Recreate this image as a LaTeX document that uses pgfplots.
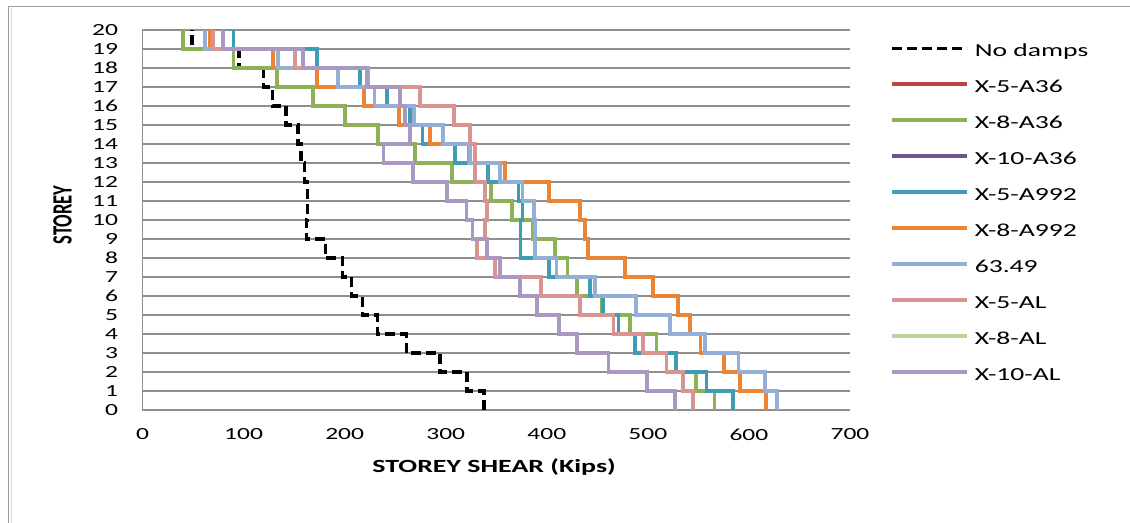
\documentclass[border=0pt]{standalone}
\usepackage{fontspec}
\setmainfont{Carlito}[FakeStretch=1.5]
\newfontfamily\plainfont{Carlito}
\usepackage{pgfplots}
\usepackage{pgfplotstable}
\pgfplotsset{compat=1.18}
\definecolor{gridgray}{HTML}{8E8E8E}
\definecolor{cRed}{HTML}{B84744}
\definecolor{cGreen}{HTML}{8DB255}
\definecolor{cPurple}{HTML}{6E5592}
\definecolor{cTeal}{HTML}{3E9DB6}
\definecolor{cOrange}{HTML}{EA8535}
\definecolor{cLBlue}{HTML}{94AFD6}
\definecolor{cPink}{HTML}{D99391}
\definecolor{cLGreen}{HTML}{BAD59C}
\definecolor{cLav}{HTML}{A898C2}

% storey s: shear acting between storey s and s+1 (last row repeats the top storey)
\pgfplotstableread{
s   nd     g      t      o      lb     pk     lv
0   338    566    584    617    628    545    527
1   321    548    558    591    616    535    499.5
2   294.5  528    528    575    589.6  518.5  461
3   261    508.6  487    552    556.6  495.5  430
4   232.5  482    471    542    522    466    412
5   217.5  455    456    530    488.5  433    390.3
6   207    429.5  442.5  505    448    394    373.5
7   198    420.5  402    477    409.7  348.5  353.7
8   181    408    374    441    388.5  331    340.5
9   162    386.7  374    438    388.5  338.5  326.5
10  163    365.3  376    433    387    341    320.5
11  163.5  345    372    402    376    339    301
12  160.5  306    342    359    353.7  329    268
13  157    269.6  309    323    324    329    238.5
14  154    233.3  277    284.5  297.6  324    264.6
15  142    200.4  265    254    269    308    260
16  128.4  169    242    219.5  229.5  274.5  254.8
17  120    132.7  215    172.3  193.5  223    222
18  95.5   90     173    128.8  134.3  150.5  159
19  49     40.4   90     66.5   62     70     80
20  49     40.4   90     66.5   62     70     80
}\storeydata

\begin{document}
\begin{tikzpicture}
\path[use as bounding box] (-142.5bp,-113bp) rectangle (987.5bp,410bp);
\draw[color=gray!75, line width=1.6bp] (-134bp,-114bp) -- (-134bp,403.5bp) -- (988bp,403.5bp);
\draw[color=gray!30, line width=1bp] (-131bp,-114bp) -- (-131bp,401.5bp);
\begin{axis}[
  scale only axis,
  width=707.5bp, height=380bp,
  xmin=0, xmax=700, ymin=0, ymax=20,
  xtick={0,100,...,700}, ytick={0,1,...,20},
  axis x line*=bottom, axis y line*=left,
  axis line style={-, draw=gridgray, line width=1.2bp},
  ymajorgrids, grid style={draw=gridgray, line width=1.2bp},
  major tick length=0pt, tick style={draw=none},
  /pgf/number format/assume math mode=true,
  tick label style={font=\fontsize{17bp}{17bp}\selectfont},
  yticklabel style={xshift=-21bp},
  xticklabel style={yshift=-15bp},
  clip=false,
  xlabel={STOREY SHEAR (Kips)},
  xlabel style={at={(axis description cs:0.497,0)}, anchor=center, yshift=-57bp,
    font=\fontsize{18.6bp}{20bp}\selectfont\bfseries},
  ylabel={\scalebox{1}[1.5]{\plainfont\bfseries STOREY}},
  ylabel style={at={(axis description cs:-0.1131,0.513)}, anchor=center,
    font=\fontsize{18.6bp}{20bp}\selectfont},
  legend image code/.code={\draw[#1, line cap=butt] (0bp,4.5bp) -- (75bp,4.5bp);},
  legend cell align=left,
  legend style={at={(axis description cs:1.0565,0.9613)}, anchor=north west,
    draw=none, fill=none, inner sep=0pt, outer sep=0pt,
    row sep=20bp, column sep=6bp,
    nodes={inner sep=0pt, text height=12bp, text depth=4bp},
    font=\fontsize{18.4bp}{20bp}\selectfont},
  every axis plot/.append style={const plot mark right, line width=3.8bp},
]
\addplot[black, line width=3.4bp, dash pattern=on 10bp off 5bp] table[x=nd, y=s] {\storeydata};
\addlegendentry{No damps}
\addlegendimage{cRed, line width=3.6bp}
\addlegendentry{X-5-A36}
\addplot[cGreen] table[x=g, y=s] {\storeydata};
\addlegendentry{X-8-A36}
\addlegendimage{cPurple, line width=3.6bp}
\addlegendentry{X-10-A36}
\addplot[cTeal] table[x=t, y=s] {\storeydata};
\addlegendentry{X-5-A992}
\addplot[cOrange] table[x=o, y=s] {\storeydata};
\addlegendentry{X-8-A992}
\addplot[cLBlue] table[x=lb, y=s] {\storeydata};
\addlegendentry{63.49}
\addplot[cPink] table[x=pk, y=s] {\storeydata};
\addlegendentry{X-5-AL}
\addlegendimage{cLGreen, line width=3.6bp}
\addlegendentry{X-8-AL}
\addplot[cLav] table[x=lv, y=s] {\storeydata};
\addlegendentry{X-10-AL}
\end{axis}
\end{tikzpicture}
\end{document}
